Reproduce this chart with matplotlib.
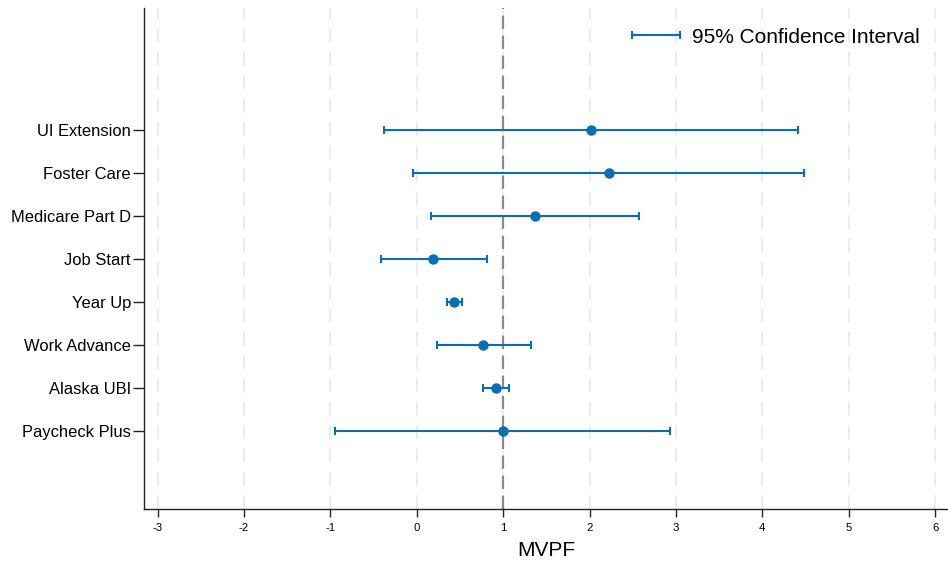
import numpy as np
import matplotlib
matplotlib.use("Agg")
import matplotlib.pyplot as plt
from matplotlib.container import ErrorbarContainer
from matplotlib.legend_handler import HandlerErrorbar

# programs listed bottom to top
programs = ["Paycheck Plus", "Alaska UBI", "Work Advance", "Year Up",
            "Job Start", "Medicare Part D", "Foster Care", "UI Extension"]
mvpf = [1.00, 0.92, 0.77, 0.43, 0.19, 1.37, 2.22, 2.02]
ci_low = [-0.95, 0.77, 0.23, 0.35, -0.41, 0.17, -0.04, -0.38]
ci_high = [2.93, 1.07, 1.32, 0.52, 0.81, 2.57, 4.48, 4.41]
xticks = [-3, -2, -1, 0, 1, 2, 3, 4, 5, 6]

plt.rcParams['font.family'] = ['Liberation Sans', 'DejaVu Sans']
blue = '#0b6db3'

fig = plt.figure(figsize=(9.48, 5.67), dpi=100)
ax = fig.add_axes([0.152, 0.1023, 0.848, 0.8836])

ypos = np.arange(1, len(programs) + 1)
mvpf = np.array(mvpf)
xerr = np.array([mvpf - np.array(ci_low), np.array(ci_high) - mvpf])

# grid + reference line
for t in xticks:
    ax.axvline(t, color='#ebebeb', lw=1.4, ls=(0, (7, 5)), zorder=0)
ax.axvline(1, color='#8a8a8a', lw=1.6, ls=(0, (6, 3)), zorder=1)

ax.errorbar(mvpf, ypos, xerr=xerr, fmt='none', ecolor=blue, elinewidth=1.5,
            capsize=2.9, capthick=1.5, label='95% Confidence Interval', zorder=2)
ax.plot(mvpf, ypos, 'o', color=blue, markersize=6.5, zorder=3)

ax.set_xlim(-3.156, 6.149)
ax.set_ylim(-0.82, 10.85)
ax.set_xticks(xticks)
ax.set_xticklabels([str(t) for t in xticks])
ax.set_yticks(ypos)
ax.set_yticklabels(programs)

ax.spines['top'].set_visible(False)
ax.spines['right'].set_visible(False)
for s in ['left', 'bottom']:
    ax.spines[s].set_color('#222222')
    ax.spines[s].set_linewidth(1.0)

ax.tick_params(axis='x', length=5.5, width=1.0, pad=4.5, labelsize=8.2, color='#222222')
ax.tick_params(axis='y', length=8, width=1.0, pad=1.5, labelsize=11.9, color='#222222')
ax.set_xlabel('MVPF', fontsize=15, labelpad=6)

ax.legend(loc='upper right', bbox_to_anchor=(0.988, 0.998), frameon=False,
          fontsize=15, handlelength=2.4, handletextpad=0.5,
          handler_map={ErrorbarContainer: HandlerErrorbar(xerr_size=1.15)})

fig.savefig('out.png', dpi=100)
